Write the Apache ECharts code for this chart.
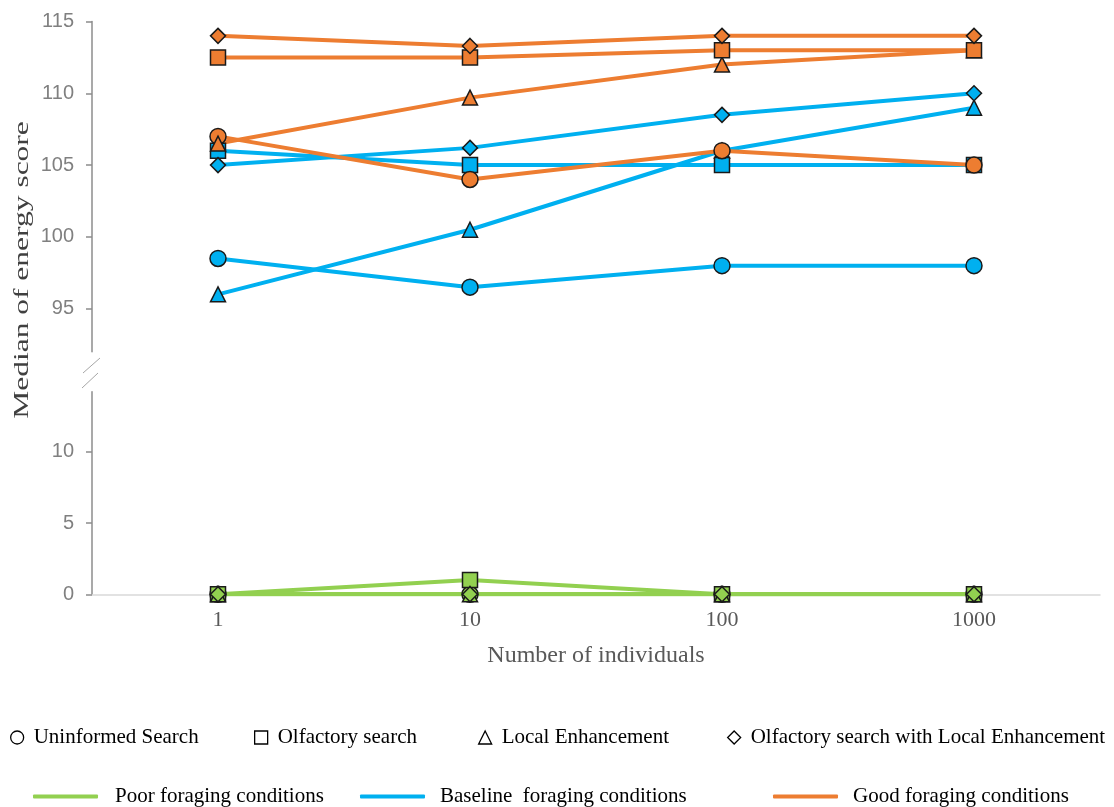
<!DOCTYPE html>
<html><head><meta charset="utf-8">
<script src="https://cdn.jsdelivr.net/npm/echarts@6/dist/echarts.min.js"></script>
<style>html,body{margin:0;padding:0;background:#fff}#c{width:1114px;height:807px}</style>
</head><body><div id="c"></div>
<script>
// ---- data ----
const categories = ['1', '10', '100', '1000'];
const strategies = ['Uninformed Search', 'Olfactory search', 'Local Enhancement', 'Olfactory search with Local Enhancement'];
const conditions = ['Poor foraging conditions', 'Baseline  foraging conditions', 'Good foraging conditions'];

const poorUninformed = [0, 0, 0, 0];
const poorOlfactory  = [0, 1, 0, 0];
const poorLocal      = [0, 0, 0, 0];
const poorOlfLocal   = [0, 0, 0, 0];

const baseUninformed = [98.5, 96.5, 98, 98];
const baseOlfactory  = [106, 105, 105, 105];
const baseLocal      = [96, 100.5, 106, 109];
const baseOlfLocal   = [105, 106.2, 108.5, 110];

const goodUninformed = [107, 104, 106, 105];
const goodOlfactory  = [112.5, 112.5, 113, 113];
const goodLocal      = [106.5, 109.7, 112, 113];
const goodOlfLocal   = [114, 113.3, 114, 114];

const upperTicks = [95, 100, 105, 110, 115];
const lowerTicks = [0, 5, 10];
const yTitle = 'Median of energy score';
const xTitle = 'Number of individuals';

// ---- styling ----
const SERIF = '"Liberation Serif","Times New Roman",serif';
const SANS = '"Liberation Sans",Arial,sans-serif';
const COLORS = ['#92D050', '#00B0F0', '#ED7D31'];
const SYMBOLS = ['circle', 'rect', 'triangle', 'diamond'];
const SYMSIZE = [16, 15, 15, 15];

function mk(condIdx, stratIdx, data, gridIdx) {
  const color = COLORS[condIdx];
  return {
    name: conditions[condIdx] + ' - ' + strategies[stratIdx],
    type: 'line', xAxisIndex: gridIdx, yAxisIndex: gridIdx, data: data,
    symbol: SYMBOLS[stratIdx], symbolSize: SYMSIZE[stratIdx], showSymbol: true,
    lineStyle: { color: color, width: 4 },
    itemStyle: { color: color, borderColor: '#1a1a1a', borderWidth: 1.5 },
    emphasis: { disabled: true }, silent: true
  };
}

const series = [
  mk(0, 0, poorUninformed, 1), mk(0, 1, poorOlfactory, 1), mk(0, 2, poorLocal, 1), mk(0, 3, poorOlfLocal, 1),
  mk(1, 0, baseUninformed, 0), mk(1, 2, baseLocal, 0), mk(1, 1, baseOlfactory, 0), mk(1, 3, baseOlfLocal, 0),
  mk(2, 0, goodUninformed, 0), mk(2, 2, goodLocal, 0), mk(2, 1, goodOlfactory, 0), mk(2, 3, goodOlfLocal, 0)
];
// legend-only series
strategies.concat(conditions).forEach(n => series.push({ name: n, type: 'line', xAxisIndex: 0, yAxisIndex: 0, data: [] }));

const shapeLegendLeft = [10, 254, 478, 727];
const condLegendLeft = [33, 360, 773];
const legends = [];
strategies.forEach((s, i) => legends.push({
  left: shapeLegendLeft[i], top: 727, padding: 0, orient: 'horizontal',
  itemWidth: 13, itemHeight: 13, selectedMode: false,
  textStyle: { fontFamily: SERIF, fontSize: 21, color: '#000', padding: [0, 0, 0, 5] },
  data: [{ name: s, icon: SYMBOLS[i], itemStyle: { color: '#fff', borderColor: '#000', borderWidth: 1.3 } }]
}));
conditions.forEach((c, i) => legends.push({
  left: condLegendLeft[i], top: 786, padding: 0,
  itemWidth: 65, itemHeight: 4, selectedMode: false,
  textStyle: { fontFamily: SERIF, fontSize: 21, color: '#000', padding: [0, 0, 0, i === 0 ? 12 : 10] },
  data: [{ name: c, icon: 'roundRect', itemStyle: { color: COLORS[i], borderWidth: 0 } }]
}));

const yAxisCommon = {
  type: 'value',
  splitLine: { show: false },
  axisLine: { show: true, lineStyle: { color: '#8c8c8c', width: 1.5 } },
  axisTick: { show: true, length: 6, lineStyle: { color: '#8c8c8c', width: 1.5 } },
  axisLabel: { fontFamily: SANS, fontSize: 20, color: '#808080', margin: 18 }
};

const option = {
  animation: false,
  backgroundColor: '#ffffff',
  grid: [
    { left: 92, right: 14, top: 21.5, height: 330.3, outerBoundsMode: 'none', containLabel: false },
    { left: 92, right: 14, top: 391.8, height: 202.5, outerBoundsMode: 'none', containLabel: false }
  ],
  xAxis: [
    { gridIndex: 0, type: 'category', data: categories, show: false },
    {
      gridIndex: 1, type: 'category', data: categories,
      axisLine: { show: true, onZero: false, lineStyle: { color: '#d9d9d9', width: 1.5 } },
      axisTick: { show: false },
      axisLabel: { fontFamily: SERIF, fontSize: 22, color: '#595959', margin: 15 },
      name: xTitle, nameLocation: 'middle', nameGap: 49,
      nameTextStyle: { fontFamily: SERIF, fontSize: 24, color: '#595959' }
    }
  ],
  yAxis: [
    Object.assign({}, yAxisCommon, {
      gridIndex: 0, min: 92, max: 115,
      axisTick: Object.assign({}, yAxisCommon.axisTick, { customValues: upperTicks }),
      axisLabel: Object.assign({}, yAxisCommon.axisLabel, { customValues: upperTicks })
    }),
    Object.assign({}, yAxisCommon, {
      gridIndex: 1, min: 0, max: 14.2,
      axisTick: Object.assign({}, yAxisCommon.axisTick, { customValues: lowerTicks }),
      axisLabel: Object.assign({}, yAxisCommon.axisLabel, { customValues: lowerTicks })
    })
  ],
  legend: legends,
  graphic: [
    {
      type: 'text', x: 22, y: 270, rotation: Math.PI / 2, scaleX: 1.5, scaleY: 1,
      style: { text: yTitle, font: '21px ' + SERIF, fill: '#404040', textAlign: 'center', textVerticalAlign: 'middle' }
    },
    { type: 'line', shape: { x1: 100, y1: 358, x2: 83, y2: 373 }, style: { stroke: '#a6a6a6', lineWidth: 1 } },
    { type: 'line', shape: { x1: 98, y1: 373, x2: 82, y2: 388 }, style: { stroke: '#a6a6a6', lineWidth: 1 } }
  ],
  series: series
};

const chart = echarts.init(document.getElementById('c'));
chart.setOption(option);
</script>
</body></html>
